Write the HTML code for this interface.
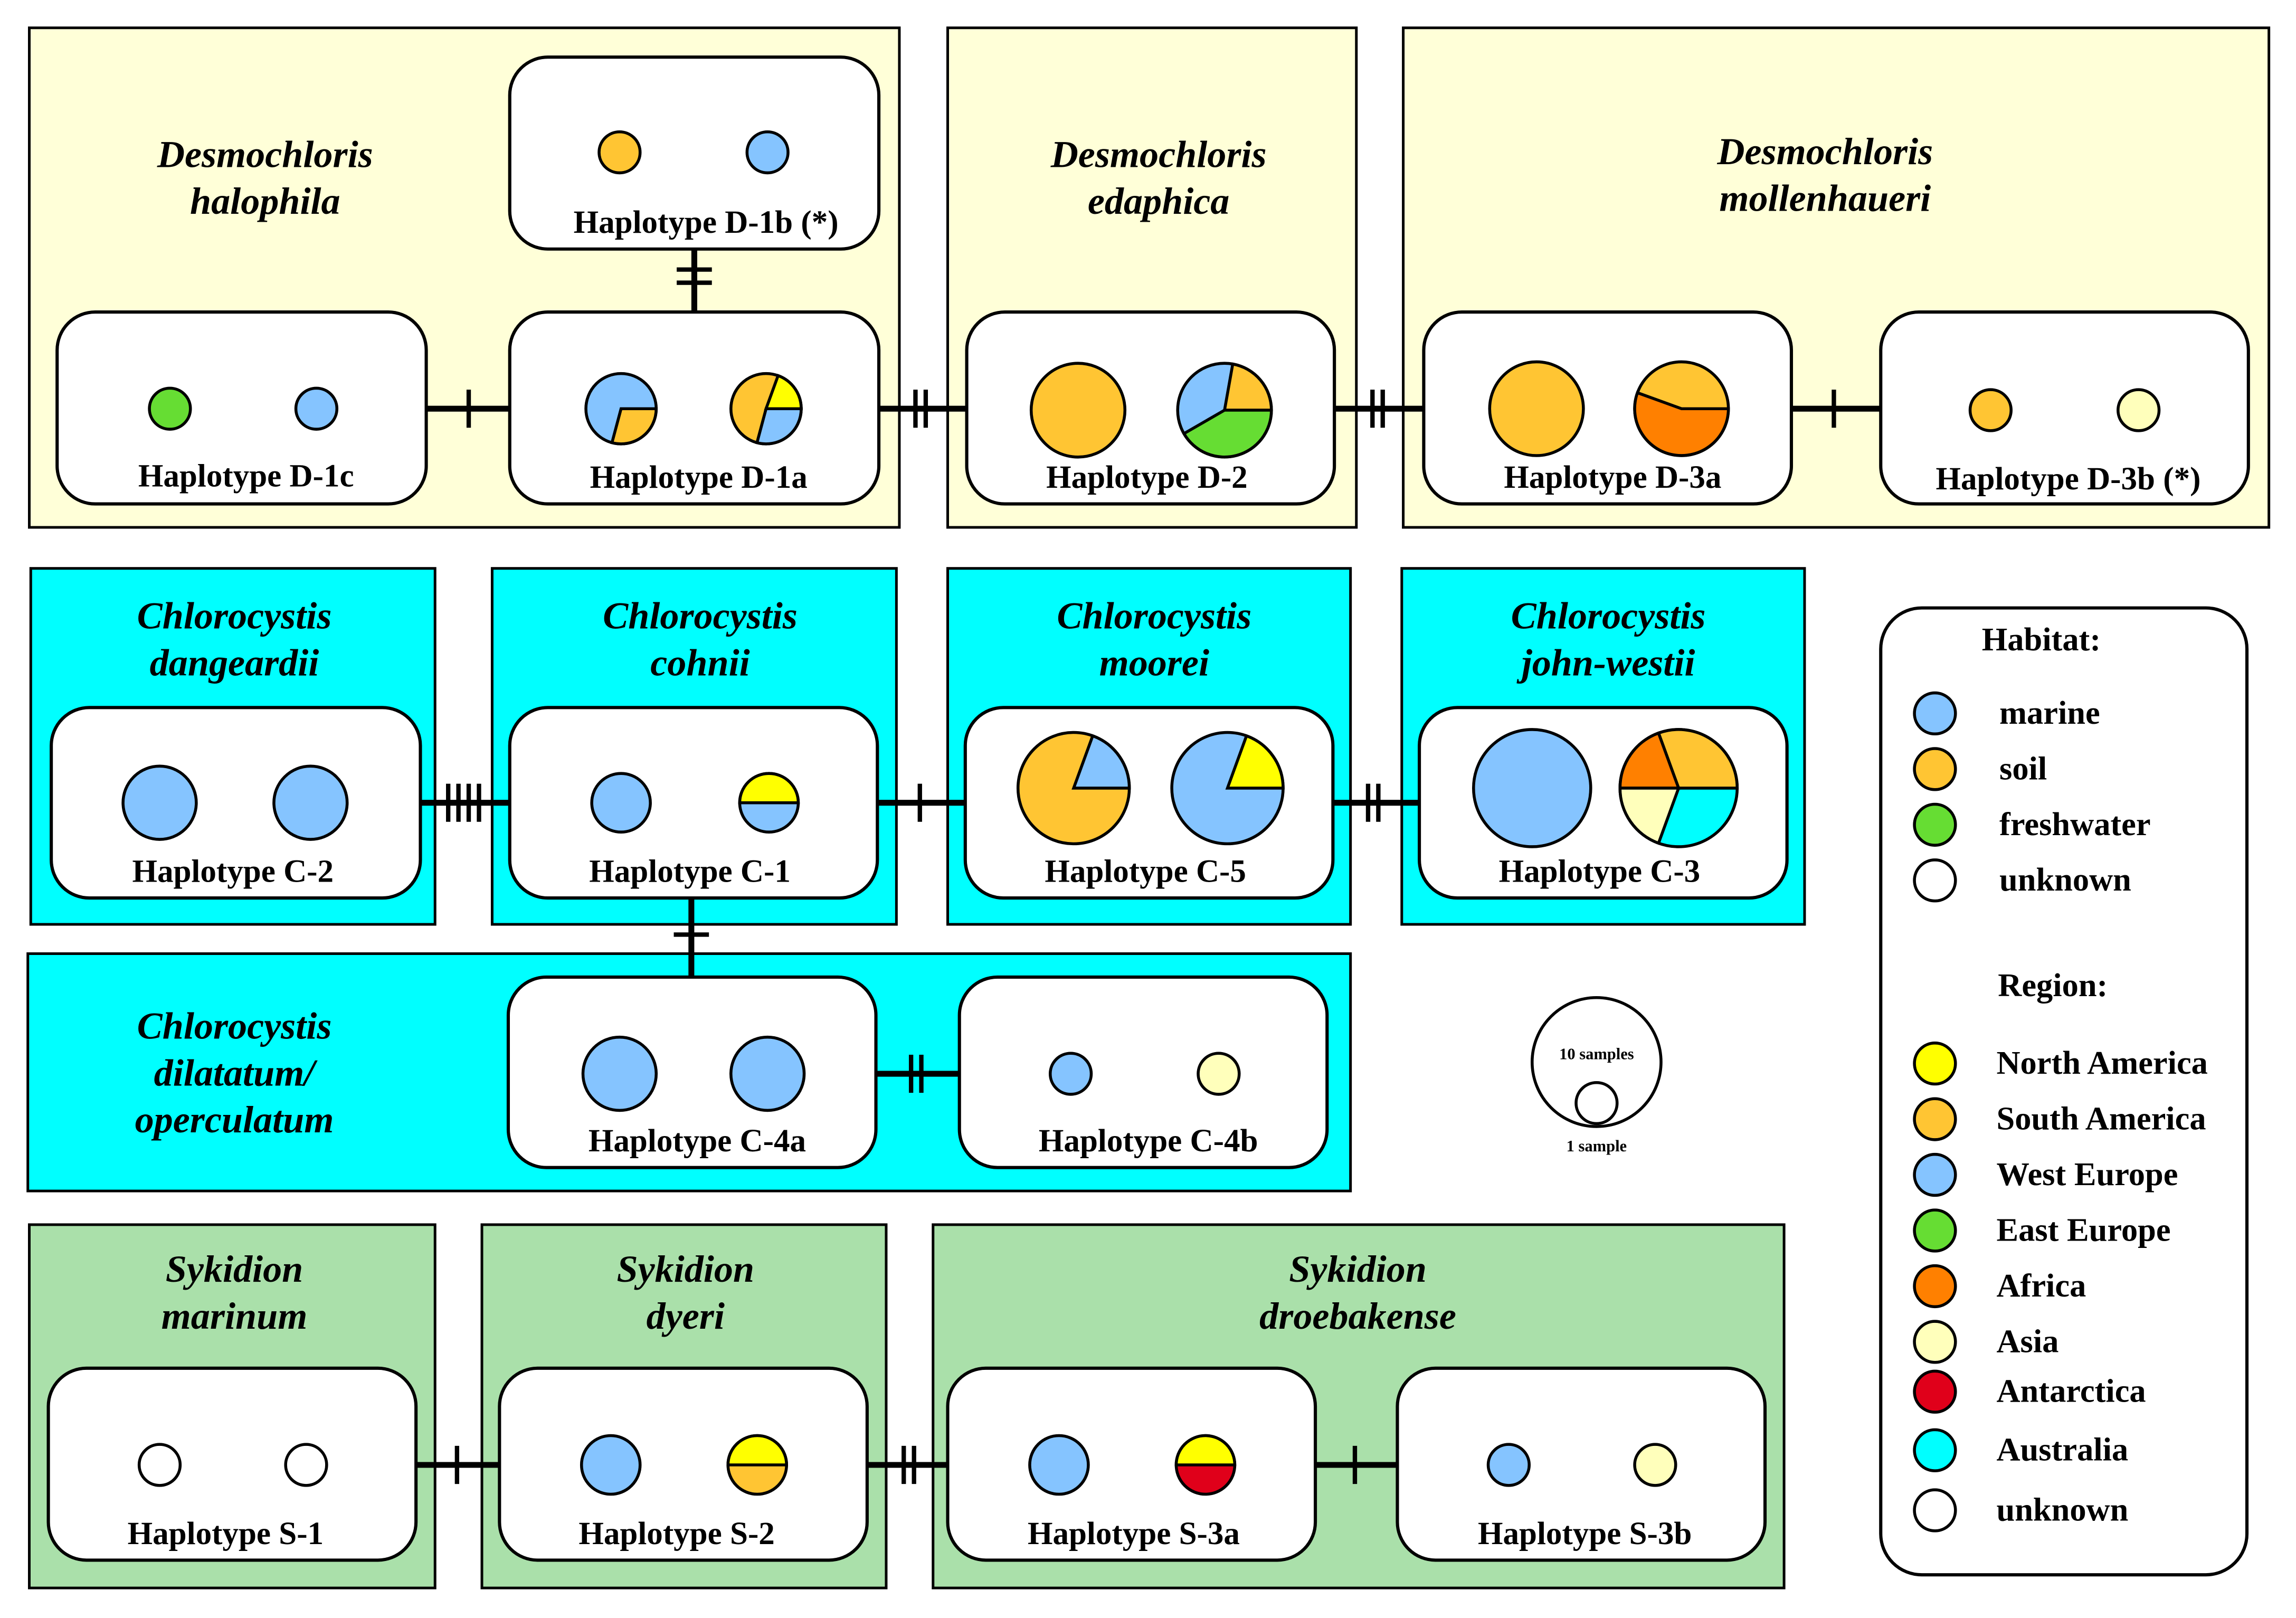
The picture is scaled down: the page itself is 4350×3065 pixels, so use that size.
<!DOCTYPE html>
<html><head><meta charset="utf-8"><style>html,body{margin:0;padding:0;background:#fff}svg{display:block}</style></head><body>
<svg width="4350" height="3065" viewBox="0 0 1567.5 1104.5" preserveAspectRatio="none" xmlns="http://www.w3.org/2000/svg" font-family="Liberation Serif, serif">
<g stroke="#000" stroke-width="1.8">
<rect x="20" y="19" width="594" height="341" fill="#ffffd8"/>
<rect x="647" y="19" width="279" height="341" fill="#ffffd8"/>
<rect x="958" y="19" width="591" height="341" fill="#ffffd8"/>
<rect x="21" y="388" width="276" height="243" fill="#00ffff"/>
<rect x="336" y="388" width="276" height="243" fill="#00ffff"/>
<rect x="647" y="388" width="275" height="243" fill="#00ffff"/>
<rect x="957" y="388" width="275" height="243" fill="#00ffff"/>
<rect x="19" y="651" width="903" height="162" fill="#00ffff"/>
<rect x="20" y="836" width="277" height="248" fill="#aae0aa"/>
<rect x="329" y="836" width="276" height="248" fill="#aae0aa"/>
<rect x="637" y="836" width="581" height="248" fill="#aae0aa"/>
</g>
<g stroke="#000" stroke-width="4" fill="none">
<path d="M291 279H348M600 279H660M911 279H972M1223 279H1284M474 170V213"/>
<path d="M287 548H348M599 548H659M910 548H969M472 613V667M598 733H655"/>
<path d="M284 1000H341M592 1000H647M898 1000H954"/>
</g>
<g stroke="#000" stroke-width="3" fill="none">
<path d="M320 266V292M625 266V292M632 266V292M937 266V292M944 266V292M1252 266V292M462 184H486M462 193H486"/>
<path d="M306 535V561M313 535V561M320 535V561M327 535V561M628 535V561M934 535V561M941 535V561M460 638H484M622 720V746M629 720V746"/>
<path d="M312 987V1013M617 987V1013M624 987V1013M925 987V1013"/>
</g>
<g fill="#fff" stroke="#000" stroke-width="2.2">
<rect x="348" y="39" width="252" height="131" rx="26"/>
<rect x="39" y="213" width="252" height="131" rx="26"/>
<rect x="348" y="213" width="252" height="131" rx="26"/>
<rect x="660" y="213" width="251" height="131" rx="26"/>
<rect x="972" y="213" width="251" height="131" rx="26"/>
<rect x="1284" y="213" width="251" height="131" rx="26"/>
<rect x="35" y="483" width="252" height="130" rx="26"/>
<rect x="348" y="483" width="251" height="130" rx="26"/>
<rect x="659" y="483" width="251" height="130" rx="26"/>
<rect x="969" y="483" width="251" height="130" rx="26"/>
<rect x="347" y="667" width="251" height="130" rx="26"/>
<rect x="655" y="667" width="251" height="130" rx="26"/>
<rect x="33" y="934" width="251" height="131" rx="26"/>
<rect x="341" y="934" width="251" height="131" rx="26"/>
<rect x="647" y="934" width="251" height="131" rx="26"/>
<rect x="954" y="934" width="251" height="131" rx="26"/>
<rect x="1284" y="415" width="250" height="660" rx="28"/>
</g>
<g stroke="#000" stroke-width="2">
<circle cx="423" cy="104" r="14" fill="#ffc533"/><circle cx="524" cy="104" r="14" fill="#85c4ff"/>
<circle cx="116" cy="279" r="14" fill="#66dd33"/><circle cx="216" cy="279" r="14" fill="#85c4ff"/>
<circle cx="424" cy="279" r="24" fill="#85c4ff"/><path d="M424 279L448 279A24 24 0 0 1 417.8 302.2Z" fill="#ffc533"/>
<circle cx="523" cy="279" r="24" fill="#ffc533"/><path d="M523 279L531.2 256.4A24 24 0 0 1 547 279Z" fill="#ffff00"/><path d="M523 279L547 279A24 24 0 0 1 516.8 302.2Z" fill="#85c4ff"/>
<circle cx="736" cy="280" r="32" fill="#ffc533"/>
<circle cx="836" cy="280" r="32" fill="#85c4ff"/><path d="M836 280L841.6 248.5A32 32 0 0 1 868 280Z" fill="#ffc533"/><path d="M836 280L868 280A32 32 0 0 1 808.3 296Z" fill="#66dd33"/>
<circle cx="1049" cy="279" r="32" fill="#ffc533"/>
<circle cx="1148" cy="279" r="32" fill="#ffc533"/><path d="M1148 279L1180 279A32 32 0 1 1 1117.9 268.1Z" fill="#ff8000"/>
<circle cx="1359" cy="280" r="14" fill="#ffc533"/><circle cx="1460" cy="280" r="14" fill="#ffffbb"/>
<circle cx="109" cy="548" r="25" fill="#85c4ff"/><circle cx="212" cy="548" r="25" fill="#85c4ff"/>
<circle cx="424" cy="548" r="20" fill="#85c4ff"/>
<circle cx="525" cy="548" r="20" fill="#85c4ff"/><path d="M505 548A20 20 0 0 1 545 548Z" fill="#ffff00"/>
<circle cx="733" cy="538" r="38" fill="#ffc533"/><path d="M733 538L746 502.3A38 38 0 0 1 771 538Z" fill="#85c4ff"/>
<circle cx="838" cy="538" r="38" fill="#85c4ff"/><path d="M838 538L851 502.3A38 38 0 0 1 876 538Z" fill="#ffff00"/>
<circle cx="1046" cy="538" r="40" fill="#85c4ff"/>
<circle cx="1146" cy="538" r="40" fill="#00ffff"/>
<path d="M1146 538L1132.3 500.4A40 40 0 0 1 1186 538Z" fill="#ffc533"/>
<path d="M1146 538L1106 538A40 40 0 0 1 1132.3 500.4Z" fill="#ff8000"/>
<path d="M1146 538L1132.3 575.6A40 40 0 0 1 1106 538Z" fill="#ffffbb"/>
<circle cx="423" cy="733" r="25" fill="#85c4ff"/><circle cx="524" cy="733" r="25" fill="#85c4ff"/>
<circle cx="731" cy="733" r="14" fill="#85c4ff"/><circle cx="832" cy="733" r="14" fill="#ffffbb"/>
<circle cx="1090" cy="725" r="44" fill="#fff"/><circle cx="1090" cy="753" r="14" fill="#fff"/>
<circle cx="109" cy="1000" r="14" fill="#fff"/><circle cx="209" cy="1000" r="14" fill="#fff"/>
<circle cx="417" cy="1000" r="20" fill="#85c4ff"/>
<circle cx="517" cy="1000" r="20" fill="#ffc533"/><path d="M497 1000A20 20 0 0 1 537 1000Z" fill="#ffff00"/>
<circle cx="723" cy="1000" r="20" fill="#85c4ff"/>
<circle cx="823" cy="1000" r="20" fill="#e0001a"/><path d="M803 1000A20 20 0 0 1 843 1000Z" fill="#ffff00"/>
<circle cx="1030" cy="1000" r="14" fill="#85c4ff"/><circle cx="1130" cy="1000" r="14" fill="#ffffbb"/>
<circle cx="1321" cy="487" r="14" fill="#85c4ff"/><circle cx="1321" cy="525" r="14" fill="#ffc533"/>
<circle cx="1321" cy="563" r="14" fill="#66dd33"/><circle cx="1321" cy="601" r="14" fill="#fff"/>
<circle cx="1321" cy="726" r="14" fill="#ffff00"/><circle cx="1321" cy="764" r="14" fill="#ffc533"/>
<circle cx="1321" cy="802" r="14" fill="#85c4ff"/><circle cx="1321" cy="840" r="14" fill="#66dd33"/>
<circle cx="1321" cy="878" r="14" fill="#ff8000"/><circle cx="1321" cy="916" r="14" fill="#ffffbb"/>
<circle cx="1321" cy="950" r="14" fill="#e0001a"/><circle cx="1321" cy="990" r="14" fill="#00ffff"/>
<circle cx="1321" cy="1031" r="14" fill="#fff"/>
</g>
<g font-size="26" font-weight="bold" font-style="italic" text-anchor="middle">
<text x="181" y="114">Desmochloris</text><text x="181" y="146">halophila</text>
<text x="791" y="114">Desmochloris</text><text x="791" y="146">edaphica</text>
<text x="1246" y="112">Desmochloris</text><text x="1246" y="144">mollenhaueri</text>
<text x="160" y="429">Chlorocystis</text><text x="160" y="461">dangeardii</text>
<text x="478" y="429">Chlorocystis</text><text x="478" y="461">cohnii</text>
<text x="788" y="429">Chlorocystis</text><text x="788" y="461">moorei</text>
<text x="1098" y="429">Chlorocystis</text><text x="1098" y="461">john-westii</text>
<text x="160" y="709">Chlorocystis</text><text x="160" y="741">dilatatum/</text><text x="160" y="773">operculatum</text>
<text x="160" y="875">Sykidion</text><text x="160" y="907">marinum</text>
<text x="468" y="875">Sykidion</text><text x="468" y="907">dyeri</text>
<text x="927" y="875">Sykidion</text><text x="927" y="907">droebakense</text>
</g>
<g font-size="22" font-weight="bold" text-anchor="middle">
<text x="482" y="159">Haplotype D-1b (*)</text>
<text x="168" y="332">Haplotype D-1c</text>
<text x="477" y="333">Haplotype D-1a</text>
<text x="783" y="333">Haplotype D-2</text>
<text x="1101" y="333">Haplotype D-3a</text>
<text x="1412" y="334">Haplotype D-3b (*)</text>
<text x="159" y="602">Haplotype C-2</text>
<text x="471" y="602">Haplotype C-1</text>
<text x="782" y="602">Haplotype C-5</text>
<text x="1092" y="602">Haplotype C-3</text>
<text x="476" y="786">Haplotype C-4a</text>
<text x="784" y="786">Haplotype C-4b</text>
<text x="154" y="1054">Haplotype S-1</text>
<text x="462" y="1054">Haplotype S-2</text>
<text x="774" y="1054">Haplotype S-3a</text>
<text x="1082" y="1054">Haplotype S-3b</text>
</g>
<g font-size="22.5" font-weight="bold">
<text x="1353" y="444">Habitat:</text>
<text x="1365" y="494">marine</text><text x="1365" y="532">soil</text>
<text x="1365" y="570">freshwater</text><text x="1365" y="608">unknown</text>
<text x="1364" y="680">Region:</text>
<text x="1363" y="733">North America</text><text x="1363" y="771">South America</text>
<text x="1363" y="809">West Europe</text><text x="1363" y="847">East Europe</text>
<text x="1363" y="885">Africa</text><text x="1363" y="923">Asia</text>
<text x="1363" y="957">Antarctica</text><text x="1363" y="997">Australia</text>
<text x="1363" y="1038">unknown</text>
</g>
<g font-size="11" font-weight="bold" text-anchor="middle">
<text x="1090" y="723">10 samples</text><text x="1090" y="786">1 sample</text>
</g>
</svg>
</body></html>
